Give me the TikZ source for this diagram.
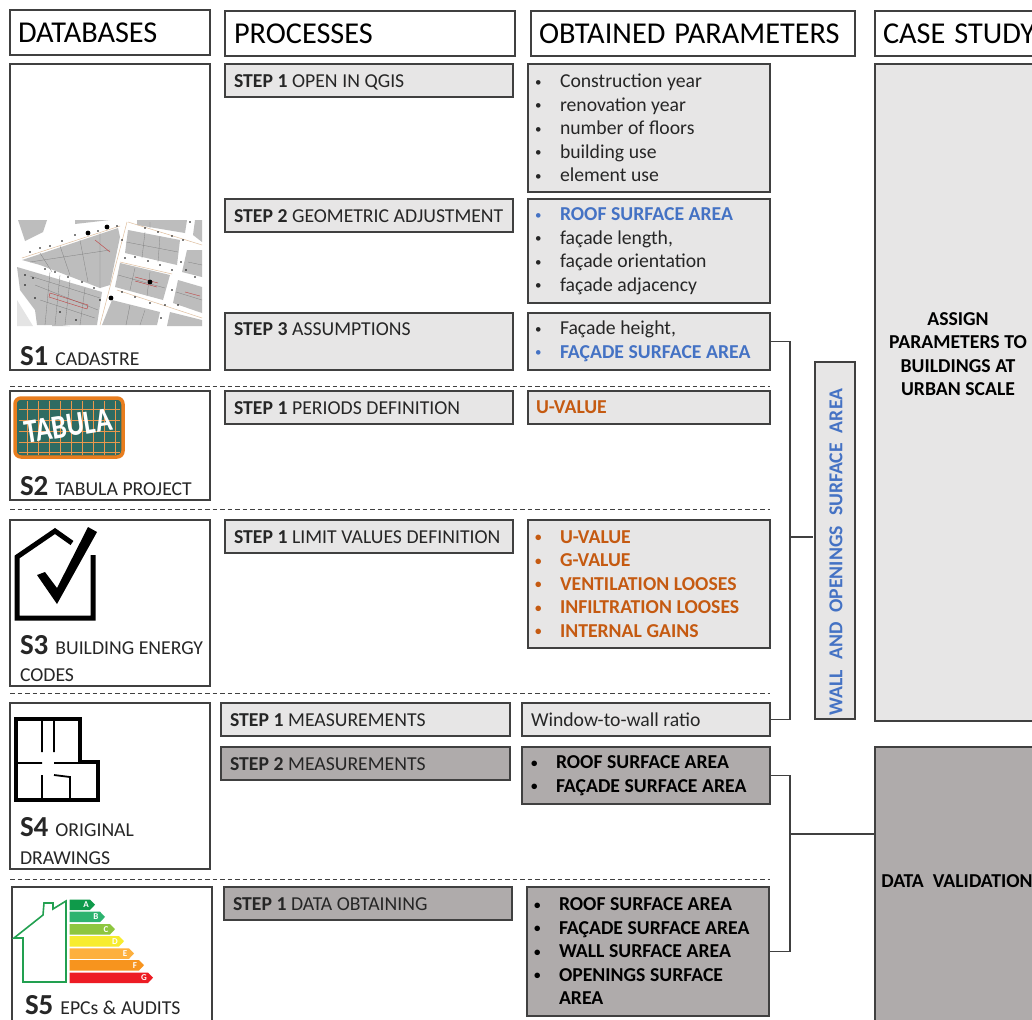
\documentclass[tikz,border=0pt]{standalone}
\usepackage{fontspec}
\setmainfont{Carlito}
\usetikzlibrary{calc, positioning}

\definecolor{boxline}{HTML}{404040}
\definecolor{lightbox}{HTML}{E7E6E6}
\definecolor{darkbox}{HTML}{AFABAB}
\definecolor{inktext}{HTML}{262626}
\definecolor{bluetext}{HTML}{4472C4}
\definecolor{orangetext}{HTML}{C55A11}
\definecolor{mapgray}{HTML}{BDBDBD}
\definecolor{tabgreen}{HTML}{2F6B62}
\definecolor{taborange}{HTML}{E87D1E}
\definecolor{epcgreen}{HTML}{22A050}

\newcommand{\itm}[1]{\makebox[25pt][l]{\raisebox{1.5pt}{\fontsize{13}{13}\selectfont\textbullet}}#1}
\newcommand{\srcnum}[1]{{\fontsize{29}{29}\selectfont\bfseries #1}\hspace{7pt}}
\newcommand{\stp}[1]{\textbf{STEP #1}}
\newcommand{\bodyfont}{\fontsize{19.7}{23.5}\selectfont}

\begin{document}
\begin{tikzpicture}[
    x=1pt, y=-1pt,
    every node/.style={outer sep=0pt, execute at begin node={\spaceskip=4.6pt\xspaceskip=4.6pt\relax}},
    txt/.style={font=\bodyfont, text=inktext},
    head/.style={rectangle, draw=boxline, line width=1.1pt, fill=white, anchor=north west,
        inner xsep=8pt, minimum height=45pt, align=left, text=black, text height=20pt, text depth=0pt,
        font=\fontsize{30.3}{30}\selectfont, execute at begin node={\spaceskip=9pt\relax}},
    srcbox/.style={rectangle, draw=boxline, line width=1.1pt, fill=white, anchor=north west,
        minimum width=200pt},
    stepbox/.style={txt, rectangle, draw=boxline, line width=1.1pt, fill=lightbox, align=left,
        inner xsep=9pt, inner ysep=8pt, text width=270pt, text height=15.5pt, text depth=1.5pt},
    parbox/.style={txt, rectangle, draw=boxline, line width=1.1pt, fill=lightbox, align=left,
        inner xsep=7pt, inner ysep=0pt, text width=228pt},
    darkfill/.style={fill=darkbox},
    srclabel/.style={txt, anchor=base west, inner sep=0pt},
    sep/.style={boxline, line width=1pt, dash pattern=on 4.5pt off 3pt},
    link/.style={boxline, line width=1.1pt},
    bartxt/.style={text=white, inner sep=0pt, font=\fontsize{9}{9}\selectfont\bfseries},
]

    \useasboundingbox (0,0) rectangle (1032,1019);
    \clip (0,0) rectangle (1032,1019);

    % Headers ------------------------------------------------------

    \node[head, text width=184pt] (h_db) at (10,10) {DATABASES};
    \node[head, text width=272pt, inner xsep=9pt] (h_proc) at (225,11) {PROCESSES};
    \node[head, text width=308pt] (h_par) at (531,11) {OBTAINED PARAMETERS};
    \node[head, text width=170pt] (h_case) at (875,11) {CASE STUDY};

    % S1 ------------------------------------------------------

    \node[srcbox, minimum height=306pt] (s1_box) at (10,64) {};
    \node[stepbox, right=15pt of s1_box.north east, anchor=north west] (s1_s1) {\stp{1} OPEN IN QGIS};
    \node[stepbox, below=102pt of s1_s1.south west, anchor=north west] (s1_s2) {\stp{2} GEOMETRIC ADJUSTMENT};
    \node[stepbox, below=81pt of s1_s2.south west, anchor=north west, text height=14pt, text depth=27pt] (s1_s3) {\stp{3} ASSUMPTIONS};

    \node[parbox, minimum height=128pt, right=15pt of s1_s1.north east, anchor=north west] (s1_p1) {%
        \itm{Construction year}\\\itm{renovation year}\\\itm{number of floors}\\\itm{building use}\\\itm{element use}};
    \node[parbox, minimum height=104pt, right=15pt of s1_s2.north east, anchor=north west] (s1_p2) {%
        \textcolor{bluetext}{\itm{\textbf{ROOF SURFACE AREA}}}\\\itm{façade length,}\\\itm{façade orientation}\\\itm{façade adjacency}};
    \node[parbox, minimum height=57pt, right=15pt of s1_s3.north east, anchor=north west] (s1_p3) {%
        \itm{Façade height,}\\\textcolor{bluetext}{\itm{\textbf{FAÇADE SURFACE AREA}}}};

    % S2 ------------------------------------------------------

    \node[srcbox, minimum height=109pt, below=21pt of s1_box.south west, anchor=north west] (s2_box) {};
    \node[stepbox, right=15pt of s2_box.north east, anchor=north west] (s2_s1) {\stp{1} PERIODS DEFINITION};
    \node[parbox, inner xsep=8pt, text width=226pt, minimum height=33pt, right=15pt of s2_s1.north east, anchor=north west] (s2_p1) {%
        \textcolor{orangetext}{\textbf{U-VALUE}}};

    % S3 ------------------------------------------------------

    \node[srcbox, minimum height=166pt, below=20pt of s2_box.south west, anchor=north west] (s3_box) {};
    \node[stepbox, right=15pt of s3_box.north east, anchor=north west] (s3_s1) {\stp{1} LIMIT VALUES DEFINITION};
    \node[parbox, text=orangetext, minimum height=128pt, right=15pt of s3_s1.north east, anchor=north west] (s3_p1) {%
        \bfseries\itm{U-VALUE}\\\itm{G-VALUE}\\\itm{VENTILATION LOOSES}\\\itm{INFILTRATION LOOSES}\\\itm{INTERNAL GAINS}};

    % S4 ------------------------------------------------------

    \node[srcbox, minimum height=166pt, below=17pt of s3_box.south west, anchor=north west] (s4_box) {};
    \node[stepbox, text width=271pt, right=11pt of s4_box.north east, anchor=north west] (s4_s1) {\stp{1} MEASUREMENTS};
    \node[stepbox, darkfill, text width=271pt, below=11pt of s4_s1.south west, anchor=north west] (s4_s2) {\stp{2} MEASUREMENTS};
    \node[parbox, inner xsep=9pt, text width=230pt, minimum height=33pt, right=12pt of s4_s1.north east, anchor=north west] (s4_p1) {Window-to-wall ratio};
    \node[parbox, darkfill, text=black, inner xsep=9pt, text width=230pt, minimum height=57pt, right=12pt of s4_s2.north east, anchor=north west] (s4_p2) {%
        \bfseries\itm{ROOF SURFACE AREA}\\\itm{FAÇADE SURFACE AREA}};

    % S5 ------------------------------------------------------

    \node[srcbox, minimum height=138pt, below=18pt of s4_box.south west, anchor=north west, xshift=2pt] (s5_box) {};
    \node[stepbox, darkfill, right=12pt of s5_box.north east, anchor=north west] (s5_s1) {\stp{1} DATA OBTAINING};
    \node[parbox, darkfill, text=black, minimum height=129pt, right=15pt of s5_s1.north east, anchor=north west] (s5_p1) {%
        \bfseries\itm{ROOF SURFACE AREA}\\\itm{FAÇADE SURFACE AREA}\\\itm{WALL SURFACE AREA}\\\itm{OPENINGS SURFACE}\\\hspace*{25pt}AREA};

    % Source labels
    \node[srclabel] (s1_label) at (20,365) {\srcnum{S1}CADASTRE};
    \node[srclabel] (s2_label) at (20,495) {\srcnum{S2}TABULA PROJECT};
    \node[srclabel] (s3_label) at (20,654) {\srcnum{S3}BUILDING ENERGY};
    \node[srclabel] (s3_label2) at (20,681) {CODES};
    \node[srclabel] (s4_label) at (20,836) {\srcnum{S4}ORIGINAL};
    \node[srclabel] (s4_label2) at (20,864) {DRAWINGS};
    \node[srclabel] (s5_label) at (25,1014) {\srcnum{S5}EPCs \& AUDITS};

    % Right column ------------------------------------------------------

    \node[srcbox, fill=lightbox, minimum width=40pt, minimum height=357pt] (wall) at (815,362) {};
    \node[rotate=90, text=bluetext, font=\bodyfont\bfseries, inner sep=0pt] (wall_text) at (836,552) {WALL\hspace{10pt}AND\hspace{10pt}OPENINGS\hspace{10pt}SURFACE\hspace{10pt}AREA};
    \node[srcbox, fill=lightbox, minimum width=166pt, minimum height=657pt] (case) at (875,64) {};
    \node[font=\bodyfont\bfseries, text=black, align=center, inner sep=0pt] (case_text) at (958,354) {ASSIGN\\PARAMETERS TO\\BUILDINGS AT\\URBAN SCALE};
    \node[srcbox, fill=darkbox, minimum width=166pt, minimum height=283pt] (valid) at (875,747) {};
    \node[font=\bodyfont\bfseries, text=black, inner sep=0pt] (valid_text) at (957,881) {DATA\hspace{9pt}VALIDATION};

    % Connectors ------------------------------------------------------

    \draw[link] (s1_p3.east) -- ++(20,0) |- (s4_p1.east);
    \coordinate (wall_join) at (790,537);
    \draw[link] (wall_join) -- ($(wall_join -| wall.west)+(-2,0)$);
    \draw[link] (s4_p2.east) -- ++(20,0) |- (s5_p1.east);
    \coordinate (valid_join) at (790,834);
    \draw[link] (valid_join) -- (valid_join -| valid.west);

    \foreach \y in {386,509,693,879}
        \draw[sep] (10,\y) -- (770,\y);

    % Cadastre map
    \fill[mapgray] (18,220) -- (47,220) -- (43,232) -- (25,241) -- cycle;
    \fill[mapgray] (22,260) -- (118,228) -- (120,237) -- (110,285) -- (100,288) -- (40,265) -- cycle;
    \fill[mapgray] (17,267) -- (102,292) -- (97,325) -- (37,325) -- (35,310) -- (20,290) -- cycle;
    \fill[mapgray] (128,230) -- (180,240) -- (177,265) -- (125,253) -- cycle;
    \fill[mapgray] (120,263) -- (170,275) -- (163,300) -- (115,287) -- cycle;
    \fill[mapgray] (112,300) -- (160,312) -- (157,325) -- (102,325) -- cycle;
    \fill[mapgray] (137,220) -- (187,220) -- (185,233) -- (137,225) -- cycle;
    \fill[mapgray] (187,250) -- (202,250) -- (202,277) -- (182,272) -- cycle;
    \fill[mapgray] (178,280) -- (202,287) -- (202,313) -- (173,303) -- cycle;
    \fill[mapgray] (170,312) -- (202,320) -- (202,326) -- (167,326) -- cycle;
    \fill[mapgray] (195,220) -- (202,220) -- (202,242) -- (193,235) -- cycle;
    \fill[mapgray] (75,220) -- (110,220) -- (75,224) -- cycle;
    \fill[mapgray!40] (17,300) -- (33,326) -- (17,326) -- cycle;
    \fill[mapgray] (52,324) -- (70,326) -- (52,326) -- cycle;
    \draw[gray, line width=.3pt] (40,253) -- (52,272) (60,246) -- (70,275) (80,240) -- (88,282)
        (100,233) -- (100,288) (30,262) -- (110,250) (35,285) -- (98,310) (50,272) -- (45,325)
        (70,280) -- (65,325) (145,232) -- (142,258) (160,236) -- (158,262) (135,268) -- (130,290)
        (150,272) -- (147,296) (130,305) -- (126,325) (145,310) -- (140,325) (126,242) -- (178,252)
        (118,275) -- (165,288) (30,276) -- (100,298) (40,300) -- (95,318) (60,275) -- (55,325)
        (85,288) -- (80,325) (188,262) -- (202,265) (176,292) -- (202,300) (150,222) -- (150,228);
    \draw[red!50!gray, line width=.4pt] (50,293) -- (88,305) -- (87,309) -- (49,297) -- cycle
        (135,277) -- (158,283) (135,281) -- (157,287) (95,240) -- (110,252) (185,292) -- (200,296);
    \draw[brown!50, line width=.5pt] (127,222) -- (100,325) (128,222) -- (202,245) (120,262) -- (172,274)
        (117,290) -- (202,318) (22,258) -- (120,226);
    \foreach \px/\py in {88/233, 107/227, 150/282, 111/298}
        \fill[black] (\px,\py) circle (2.4pt);
    \foreach \px/\py in {30/252, 40/248, 50/246, 62/241, 75/235, 98/231, 117/226, 25/275, 33/278, 45/269, 55/272,
        68/277, 82/282, 94/288, 122/240, 125/258, 135/257, 148/261, 160/265, 172/270, 145/228, 158/232, 172/236,
        183/240, 190/222, 181/262, 186/270, 195/277, 122/292, 135/297, 150/303, 165/305, 161/318, 60/312, 76/320,
        25/285, 35/298, 100/300, 178/305, 172/290}
        \fill[black] (\px,\py) circle (.8pt);

    % Tabula logo
    \node[rectangle, rounded corners=6pt, draw=taborange, line width=3.5pt, fill=tabgreen, anchor=north west,
        minimum width=108pt, minimum height=59pt] (tab_logo) at (15,398) {};
    \foreach \gy in {409,420,431,442,452}
        \draw[taborange!80, line width=.7pt] (19,\gy) -- (120,\gy);
    \foreach \gx in {27,38,49,60,71,82,93,104,115}
        \draw[taborange!80, line width=.7pt] (\gx,401) -- (\gx,455);
    \node[text=white, rotate=9, yscale=1.25, inner sep=0pt, font=\fontsize{27}{27}\selectfont\bfseries] (tab_text) at (68,426) {TABULA};

    % Energy code icon
    \draw[black, line width=5pt, miter limit=4] (72,543) -- (55,531) -- (17,557) -- (17,618) -- (93,618) -- (93,555);
    \fill[black] (37,575) -- (45,572) -- (57,588) -- (88,527) -- (97,532) -- (57,604) -- cycle;

    % Floor plan icon
    \draw[black, line width=3.4pt] (16,719) -- (80,719) -- (80,762) -- (98,762) -- (98,800) -- (16,800) -- cycle;
    \draw[black, line width=1.8pt] (42,719) -- (42,752) (54,719) -- (54,752) (16,763) -- (42,763) (54,763) -- (80,763)
        (42,775) -- (42,800) (54,775) -- (70,777) -- (70,800);

    % EPC icon
    \draw[epcgreen, line width=1.6pt] (14,938) -- (43,915) -- (44,903) -- (53,903) -- (53,909) -- (66,901) -- (66,982)
        -- (23,982) -- (23,938) -- cycle;
    \foreach \bl/\bc/\by/\bx in {A/0F9A4A/899.5/95, B/2DB36F/911.7/105, C/8DC63F/924/115, D/F7EC2F/936/124,
        E/FDB03E/948.3/134, F/F7941E/960/144, G/ED1C24/972.5/153} {
        \definecolor{barcol}{HTML}{\bc}
        \fill[barcol] (69.5,\by) -- (\bx-5,\by) -- (\bx,\by+5.2) -- (\bx-5,\by+10.5) -- (69.5,\by+10.5) -- cycle;
        \node[bartxt] (bar\bl) at (\bx-9,\by+5.2) {\bl};
    }

\end{tikzpicture}
\end{document}
